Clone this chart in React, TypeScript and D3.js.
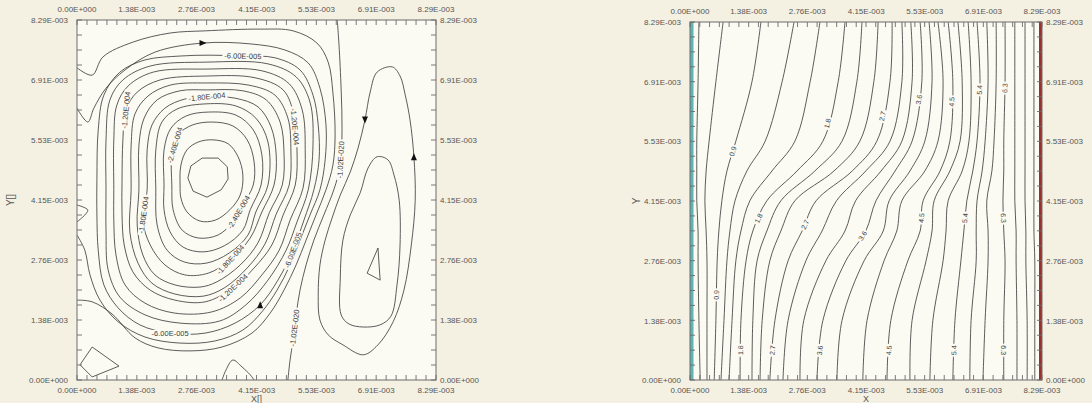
import * as d3 from "d3";

type Pt = [number, number];

const W = 1092;
const H = 403;
const AXIS_MAX = 8.29;
const tickValues = [0, 1.38, 2.76, 4.15, 5.53, 6.91, 8.29];
const tickLabels = ["0.00E+000", "1.38E-003", "2.76E-003", "4.15E-003", "5.53E-003", "6.91E-003", "8.29E-003"];

// ---- left plot: stream function (coordinates in 1e-3) ----
// closed loops from the core of the vortex outwards, step 2E-005
const streamLoops: Pt[][] = [
  [[2.56,4.65],[2.63,4.93],[2.89,5.11],[3.26,5.11],[3.47,4.91],[3.49,4.63],[3.33,4.38],[3.00,4.21],[2.68,4.35]],
  [[2.38,4.49],[2.40,4.95],[2.54,5.30],[2.80,5.48],[3.14,5.53],[3.49,5.44],[3.72,5.14],[3.83,4.72],[3.77,4.26],[3.53,3.92],[3.19,3.68],[2.84,3.66],[2.54,3.87],[2.40,4.19]],
  [[2.19,4.49],[2.19,5.18],[2.33,5.64],[2.66,5.87],[3.12,5.94],[3.60,5.85],[3.93,5.53],[4.09,5.02],[4.07,4.49],[3.83,4.03],[3.60,3.64],[3.26,3.34],[2.80,3.27],[2.43,3.45],[2.22,3.92]],
  [[2.01,4.49],[2.01,5.30],[2.17,5.80],[2.52,6.08],[3.03,6.17],[3.67,6.10],[4.07,5.76],[4.27,5.18],[4.25,4.49],[4.00,3.92],[3.83,3.45],[3.40,3.09],[2.91,2.95],[2.45,3.06],[2.15,3.41],[2.01,3.92]],
  [[1.82,4.42],[1.82,5.30],[1.96,5.94],[2.31,6.24],[3.00,6.36],[3.67,6.31],[4.13,6.03],[4.41,5.48],[4.41,4.49],[4.13,3.87],[3.95,3.34],[3.51,2.92],[2.98,2.69],[2.47,2.72],[2.08,2.99],[1.85,3.57]],
  [[1.62,4.38],[1.62,5.30],[1.73,5.87],[2.03,6.26],[2.49,6.47],[3.00,6.52],[3.65,6.49],[4.18,6.29],[4.48,5.83],[4.60,5.18],[4.55,4.49],[4.27,3.87],[4.00,3.27],[3.53,2.76],[3.03,2.46],[2.49,2.42],[2.03,2.65],[1.69,3.11],[1.52,3.68]],
  [[1.43,4.38],[1.43,5.41],[1.55,6.03],[1.85,6.45],[2.38,6.66],[3.00,6.68],[3.83,6.66],[4.37,6.45],[4.69,5.94],[4.78,5.23],[4.74,4.49],[4.44,3.85],[4.18,3.16],[3.77,2.65],[3.23,2.26],[2.84,2.14],[2.26,2.19],[1.80,2.42],[1.52,2.88],[1.39,3.57]],
  [[1.25,4.38],[1.25,5.41],[1.34,6.13],[1.64,6.54],[2.15,6.79],[3.00,6.84],[3.97,6.79],[4.57,6.56],[4.87,6.03],[4.94,5.25],[4.90,4.49],[4.60,3.82],[4.34,3.13],[3.93,2.58],[3.40,2.12],[2.91,1.93],[2.26,1.98],[1.73,2.23],[1.41,2.69],[1.22,3.41]],
  [[1.04,4.61],[1.06,5.53],[1.13,6.22],[1.39,6.63],[1.92,6.91],[3.00,7.00],[4.11,6.96],[4.76,6.68],[5.01,6.10],[5.08,5.30],[5.04,4.49],[4.76,3.80],[4.50,3.11],[4.09,2.58],[3.60,2.12],[2.96,1.80],[2.26,1.84],[1.69,2.07],[1.29,2.49],[1.09,3.11],[1.04,3.80]],
  [[0.85,4.38],[0.85,5.53],[0.92,6.33],[1.18,6.77],[1.76,7.09],[3.00,7.16],[4.27,7.12],[4.90,6.82],[5.20,6.22],[5.27,5.30],[5.22,4.42],[4.92,3.68],[4.67,2.99],[4.27,2.42],[3.77,1.89],[3.12,1.57],[2.26,1.54],[1.57,1.77],[1.11,2.19],[0.90,2.88],[0.85,3.68]],
  [[0.67,4.38],[0.67,5.53],[0.76,6.45],[1.06,6.91],[1.69,7.23],[3.00,7.32],[4.41,7.28],[5.06,6.98],[5.38,6.40],[5.45,5.41],[5.34,4.38],[5.08,3.64],[4.83,2.99],[4.41,2.30],[3.90,1.73],[3.30,1.36],[2.38,1.31],[1.57,1.50],[0.99,1.91],[0.72,2.53],[0.67,3.45]],
  [[0.46,4.61],[0.49,5.76],[0.62,6.56],[0.99,7.09],[1.57,7.37],[2.38,7.46],[3.07,7.48],[3.83,7.46],[4.57,7.42],[5.15,7.14],[5.45,6.56],[5.57,5.87],[5.59,5.07],[5.47,4.38],[5.24,3.68],[4.99,2.99],[4.64,2.30],[4.23,1.73],[3.65,1.31],[2.96,1.08],[2.15,1.08],[1.45,1.27],[0.95,1.66],[0.62,2.19],[0.49,2.99],[0.46,3.80]],
];
// outer lines that run into the left wall
const streamOuterA: Pt[] = [[0,6.26],[0.25,5.94],[0.39,6.26],[0.67,6.72],[1.11,7.14],[1.80,7.55],[2.91,7.76],[4.00,7.74],[4.80,7.60],[5.34,7.30],[5.61,6.72],[5.75,5.87],[5.73,5.07],[5.61,4.38],[5.38,3.80],[5.15,3.22],[4.92,2.65],[4.62,2.07],[4.27,1.57],[3.83,1.15],[3.19,0.90],[2.38,0.85],[1.57,0.99],[0.95,1.34],[0.53,1.84],[0.30,2.42],[0.18,2.99],[0,3.34]];
const streamOuterB: Pt[] = [[0,7.19],[0.35,7.02],[0.60,7.44],[1.29,7.78],[2.15,7.99],[2.96,8.04],[4.23,8.08],[4.99,8.04],[5.54,7.76],[5.80,7.32],[5.91,6.61],[5.96,5.64],[5.91,4.95],[5.75,4.38],[5.52,3.80],[5.29,3.22],[5.06,2.65],[4.78,2.07],[4.46,1.54],[4.04,1.08],[3.35,0.76],[2.61,0.67],[1.87,0.74],[1.34,0.97],[0.81,1.52],[0.35,1.80],[0,1.84]];
const streamZero: Pt[] = [[6.01,8.29],[6.05,7.72],[6.10,6.68],[6.12,5.76],[6.08,4.95],[5.93,4.38],[5.70,3.80],[5.47,3.22],[5.29,2.65],[5.15,2.07],[5.06,1.50],[4.99,0.92],[4.92,0.46],[4.87,0]];
const rightCellOuter: Pt[] = [[7.28,7.21],[7.46,7.00],[7.58,6.56],[7.69,5.99],[7.78,5.14],[7.81,4.14],[7.72,3.11],[7.55,2.07],[7.30,1.34],[6.95,0.81],[6.61,0.58],[6.14,0.81],[5.80,1.04],[5.61,1.38],[5.57,1.96],[5.61,2.65],[5.73,3.22],[5.89,3.73],[6.08,4.26],[6.31,4.79],[6.49,5.34],[6.65,5.99],[6.77,6.63],[6.93,7.09]];
const rightCellInner: Pt[] = [[6.93,5.14],[7.18,5.07],[7.32,4.72],[7.44,4.14],[7.46,3.11],[7.39,2.19],[7.25,1.47],[7.00,1.27],[6.61,1.22],[6.28,1.29],[6.10,1.50],[6.08,2.35],[6.14,3.22],[6.31,3.80],[6.54,4.31],[6.72,4.88]];
const rightCellCore: Pt[] = [[6.95,3.04],[6.70,2.46],[7.00,2.30]];
const cornerLoop: Pt[] = [[0.07,0.35],[0.35,0.76],[0.97,0.32],[0.35,0.07]];
const bottomBump: Pt[] = [[3.35,0],[3.44,0.23],[3.60,0.46],[3.81,0.30],[4.00,0.12],[4.09,0]];
const wallBump: Pt[] = [[0,4.03],[0.25,3.91],[0,3.64]];

// label -> line index (0..11 loops, 12 outerA, 13 outerB, 14 zero)
const streamLabels = [
  { text: "-6.00E-005", line: 11, at: [3.83, 7.46] },
  { text: "-6.00E-005", line: 11, at: [2.15, 1.08] },
  { text: "-6.00E-005", line: 11, at: [4.99, 2.99] },
  { text: "-1.20E-004", line: 8, at: [1.09, 6.22] },
  { text: "-1.20E-004", line: 8, at: [5.01, 5.83] },
  { text: "-1.20E-004", line: 8, at: [3.60, 2.12] },
  { text: "-1.80E-004", line: 5, at: [3.00, 6.52] },
  { text: "-1.80E-004", line: 5, at: [1.55, 3.80] },
  { text: "-1.80E-004", line: 5, at: [3.58, 2.74] },
  { text: "-2.40E-004", line: 2, at: [2.26, 5.41] },
  { text: "-2.40E-004", line: 2, at: [3.76, 3.85] },
  { text: "-1.02E-020", line: 14, at: [6.10, 5.07] },
  { text: "-1.02E-020", line: 14, at: [5.01, 1.20] },
];
const flowArrows = [
  { at: [2.91, 7.76], dir: 0 },
  { at: [4.23, 1.73], dir: -90 },
  { at: [6.65, 5.99], dir: 90 },
  { at: [7.78, 5.14], dir: -90 },
];

// ---- right plot: temperature isolines ----
const tempLevels = [0.3, 0.6, 0.9, 1.2, 1.5, 1.8, 2.1, 2.4, 2.7, 3.0, 3.3, 3.6, 3.9, 4.2, 4.5, 4.8, 5.1, 5.4, 5.7, 6.0, 6.3, 6.6, 6.9, 7.2];
const tempY = [0, 1.38, 2.76, 3.45, 4.15, 4.84, 5.53, 6.91, 8.29];
const tempX = [
  [0.24, 0.21, 0.19, 0.19, 0.16, 0.16, 0.16, 0.19, 0.21],
  [0.40, 0.40, 0.40, 0.38, 0.35, 0.38, 0.45, 0.61, 0.78],
  [0.57, 0.61, 0.64, 0.68, 0.75, 0.87, 1.08, 1.46, 1.67],
  [0.73, 0.80, 0.87, 0.94, 1.06, 1.34, 1.77, 2.17, 2.45],
  [0.92, 0.99, 1.08, 1.20, 1.41, 1.93, 2.47, 2.83, 3.06],
  [1.18, 1.20, 1.32, 1.48, 1.81, 2.52, 3.13, 3.49, 3.65],
  [1.46, 1.48, 1.58, 1.81, 2.14, 2.94, 3.58, 3.93, 4.05],
  [1.65, 1.70, 1.88, 2.14, 2.47, 3.39, 4.00, 4.33, 4.43],
  [1.88, 2.00, 2.31, 2.64, 2.97, 3.82, 4.40, 4.71, 4.76],
  [2.19, 2.31, 2.73, 3.11, 3.45, 4.14, 4.71, 4.99, 4.99],
  [2.59, 2.68, 3.20, 3.65, 3.90, 4.50, 4.99, 5.23, 5.20],
  [2.99, 3.13, 3.67, 4.14, 4.38, 4.83, 5.23, 5.46, 5.42],
  [3.46, 3.58, 4.10, 4.55, 4.69, 5.18, 5.53, 5.70, 5.63],
  [4.07, 4.17, 4.57, 4.87, 4.99, 5.53, 5.84, 5.96, 5.84],
  [4.64, 4.73, 5.13, 5.42, 5.49, 5.89, 6.12, 6.19, 6.08],
  [5.18, 5.23, 5.56, 5.70, 5.75, 6.12, 6.36, 6.41, 6.31],
  [5.65, 5.72, 5.96, 6.03, 6.08, 6.41, 6.57, 6.62, 6.55],
  [6.19, 6.24, 6.38, 6.45, 6.52, 6.66, 6.76, 6.83, 6.76],
  [6.59, 6.62, 6.74, 6.74, 6.76, 6.88, 6.95, 7.02, 6.99],
  [6.90, 6.95, 7.02, 7.02, 6.99, 7.11, 7.16, 7.21, 7.21],
  [7.39, 7.39, 7.42, 7.39, 7.37, 7.39, 7.39, 7.42, 7.42],
  [7.70, 7.70, 7.68, 7.68, 7.65, 7.65, 7.65, 7.65, 7.65],
  [7.94, 7.94, 7.91, 7.91, 7.89, 7.89, 7.89, 7.89, 7.89],
  [8.12, 8.12, 8.12, 8.10, 8.10, 8.10, 8.10, 8.10, 8.10],
];
const tempLabels = [
  { level: 0.9, at: [1.06, 5.28] }, { level: 1.8, at: [3.37, 5.91] }, { level: 2.7, at: [4.71, 6.07] },
  { level: 3.6, at: [5.46, 6.48] }, { level: 4.5, at: [6.22, 6.44] }, { level: 5.4, at: [6.81, 6.72] },
  { level: 6.3, at: [7.42, 6.76] },
  { level: 0.9, at: [0.64, 1.97] }, { level: 1.8, at: [1.60, 3.75] }, { level: 2.7, at: [2.73, 3.59] },
  { level: 3.6, at: [4.14, 3.29] }, { level: 4.5, at: [5.46, 3.75] }, { level: 5.4, at: [6.48, 3.75] },
  { level: 6.3, at: [7.39, 3.75] },
  { level: 1.8, at: [1.18, 0.69] }, { level: 2.7, at: [1.91, 0.69] }, { level: 3.6, at: [3.01, 0.69] },
  { level: 4.5, at: [4.64, 0.69] }, { level: 5.4, at: [6.19, 0.69] }, { level: 6.3, at: [7.39, 0.69] },
];

const PAPER = "#f5f1e2";
const FIELD = "#fbfaf3";
const INK = "#404040";
const AXIS = "#6c6c6c";
const TXT = "#555";
const FONT = "'Liberation Sans', Arial, sans-serif";

type Line = { pts: Pt[]; closed: boolean; smooth: boolean };
type Label = { text: string; line: number; at: number[]; size: number; w: number };

function snap(px: Pt[], closed: boolean, tx: number, ty: number) {
  let best = { d: Infinity, x: tx, y: ty, a: 0 };
  const n = px.length;
  const segs = closed ? n : n - 1;
  for (let i = 0; i < segs; i++) {
    const p = px[i], q = px[(i + 1) % n];
    const dx = q[0] - p[0], dy = q[1] - p[1];
    const l2 = dx * dx + dy * dy || 1;
    const t = Math.max(0, Math.min(1, ((tx - p[0]) * dx + (ty - p[1]) * dy) / l2));
    const x = p[0] + t * dx, y = p[1] + t * dy;
    const d = (x - tx) ** 2 + (y - ty) ** 2;
    if (d < best.d) best = { d, x, y, a: (Math.atan2(dy, dx) * 180) / Math.PI };
  }
  let a = best.a;
  if (a > 90) a -= 180;
  if (a <= -90) a += 180;
  return { x: best.x, y: best.y, a };
}

function Panel(props: {
  id: string; left: number; right: number; top: number; bottom: number;
  lines: Line[]; labels: Label[]; arrows?: { at: number[]; dir: number }[];
  walls?: boolean; xTitle: string; yTitle: string; yTitleX: number; topLabelY: number;
}) {
  const { id, left, right, top, bottom, lines, labels, arrows = [], walls } = props;
  const x = d3.scaleLinear().domain([0, AXIS_MAX]).range([left, right]);
  const y = d3.scaleLinear().domain([0, AXIS_MAX]).range([bottom, top]);
  const open = d3.line<Pt>().x((d) => x(d[0])).y((d) => y(d[1])).curve(d3.curveCatmullRom.alpha(0.5));
  const closed = d3.line<Pt>().x((d) => x(d[0])).y((d) => y(d[1])).curve(d3.curveCatmullRomClosed.alpha(0.5));
  const sharp = d3.line<Pt>().x((d) => x(d[0])).y((d) => y(d[1])).curve(d3.curveLinearClosed);
  const minorX = d3.range(37).map((k) => (k * AXIS_MAX) / 36);
  const minorY = d3.range(25).map((k) => (k * AXIS_MAX) / 24);
  const tl = 5;

  return (
    <g>
      <defs>
        <clipPath id={`clip-${id}`}>
          <rect x={left} y={top} width={right - left} height={bottom - top} />
        </clipPath>
      </defs>
      <rect x={left} y={top} width={right - left} height={bottom - top} fill={FIELD} />
      <g clipPath={`url(#clip-${id})`} fill="none" stroke={INK} strokeWidth={0.85} strokeLinejoin="round">
        {lines.map((l, i) => (
          <path key={i} d={(l.closed ? (l.smooth ? closed : sharp) : open)(l.pts) || ""} />
        ))}
      </g>
      {labels.map((lb, i) => {
        const ln = lines[lb.line];
        const px = ln.pts.map((p) => [x(p[0]), y(p[1])] as Pt);
        const s = snap(px, ln.closed, x(lb.at[0]), y(lb.at[1]));
        return (
          <g key={i} transform={`translate(${s.x},${s.y}) rotate(${s.a})`}>
            <rect x={-lb.w / 2 - 1.5} y={-3.2} width={lb.w + 3} height={6.4} fill={FIELD} />
            <text textAnchor="middle" dy="0.35em" fontSize={lb.size} fontFamily={FONT} fill={INK}>
              {lb.text}
            </text>
          </g>
        );
      })}
      {arrows.map((a, i) => (
        <path key={i} d="M-3.5,-3 L3.5,0 L-3.5,3 Z" fill="#111"
          transform={`translate(${x(a.at[0])},${y(a.at[1])}) rotate(${a.dir})`} />
      ))}
      {walls && (
        <g>
          <rect x={left} y={top} width={3.5} height={bottom - top} fill="#5fb3b4" />
          <rect x={right - 3} y={top} width={3} height={bottom - top} fill="#9b2f2c" />
        </g>
      )}
      <rect x={left} y={top} width={right - left} height={bottom - top} fill="none" stroke={AXIS} strokeWidth={1} />
      <g stroke={AXIS} strokeWidth={0.9}>
        {minorX.map((v, i) => (
          <g key={`x${i}`}>
            <line x1={x(v)} x2={x(v)} y1={top} y2={top + tl} />
            <line x1={x(v)} x2={x(v)} y1={bottom} y2={bottom - tl} />
          </g>
        ))}
        {minorY.map((v, i) => (
          <g key={`y${i}`}>
            <line x1={left} x2={left + tl} y1={y(v)} y2={y(v)} />
            <line x1={right} x2={right - tl} y1={y(v)} y2={y(v)} />
          </g>
        ))}
      </g>
      <g fontFamily={FONT} fontSize={8} fill={TXT}>
        {tickValues.map((v, i) => (
          <g key={i}>
            <text x={x(v)} y={props.topLabelY} textAnchor="middle" dy="0.35em">{tickLabels[i]}</text>
            <text x={x(v)} y={bottom + 10} textAnchor="middle" dy="0.35em">{tickLabels[i]}</text>
            <text x={left - 9} y={y(v)} textAnchor="end" dy="0.4em">{tickLabels[i]}</text>
            <text x={right + 4} y={y(v)} textAnchor="start" dy="0.4em">{tickLabels[i]}</text>
          </g>
        ))}
        <text x={(left + right) / 2} y={H - 1} textAnchor="middle" fontSize={9}>{props.xTitle}</text>
        <text transform={`translate(${props.yTitleX},${(top + bottom) / 2}) rotate(-90)`} textAnchor="middle" fontSize={10}>
          {props.yTitle}
        </text>
      </g>
    </g>
  );
}

export default function App() {
  const streamLines: Line[] = [
    ...streamLoops.map((pts, i) => ({ pts, closed: true, smooth: i > 0 })),
    { pts: streamOuterA, closed: false, smooth: true },
    { pts: streamOuterB, closed: false, smooth: true },
    { pts: streamZero, closed: false, smooth: true },
    { pts: rightCellOuter, closed: true, smooth: true },
    { pts: rightCellInner, closed: true, smooth: true },
    { pts: rightCellCore, closed: true, smooth: false },
    { pts: cornerLoop, closed: true, smooth: false },
    { pts: bottomBump, closed: false, smooth: true },
    { pts: wallBump, closed: false, smooth: true },
  ];
  const leftLabels: Label[] = streamLabels.map((l) => ({ ...l, size: 7.5, w: 38 }));

  const tempLines: Line[] = tempX.map((row) => ({
    pts: row.map((v, k) => [v, tempY[k]] as Pt),
    closed: false,
    smooth: true,
  }));
  const rightLabels: Label[] = tempLabels.map((l) => ({
    text: l.level.toFixed(1),
    line: tempLevels.indexOf(l.level),
    at: l.at,
    size: 7,
    w: 10,
  }));

  return (
    <svg width={W} height={H} style={{ position: "absolute", left: 0, top: 0, display: "block" }}>
      <rect width={W} height={H} fill={PAPER} />
      <Panel id="psi" left={77} right={436} top={20} bottom={380} lines={streamLines} labels={leftLabels}
        arrows={flowArrows} xTitle="X[]" yTitle="Y[]" yTitleX={14} topLabelY={9} />
      <Panel id="temp" left={690} right={1042} top={22} bottom={380} lines={tempLines} labels={rightLabels}
        walls xTitle="X" yTitle="Y" yTitleX={640} topLabelY={11} />
    </svg>
  );
}
